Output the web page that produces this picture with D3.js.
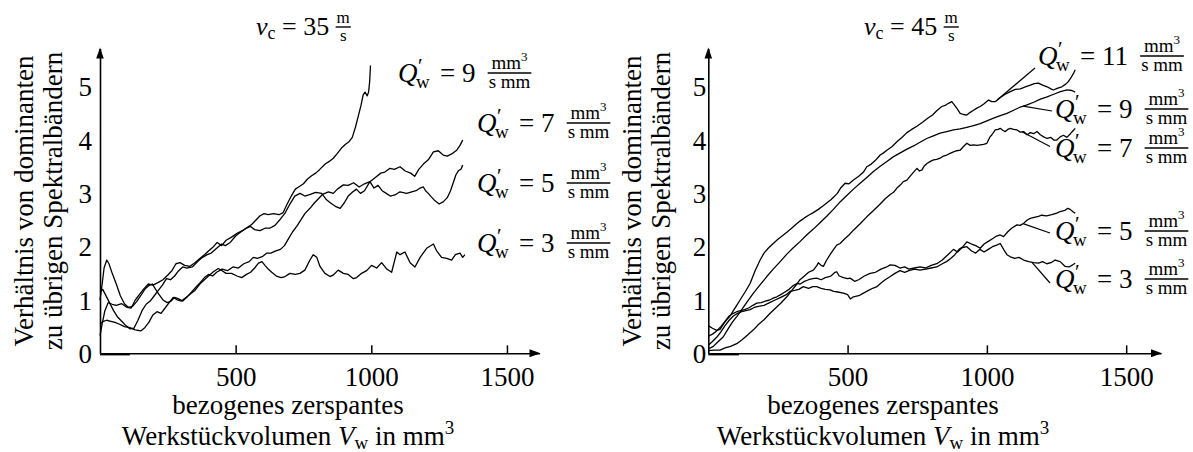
<!DOCTYPE html>
<html><head><meta charset="utf-8">
<script src="https://cdn.jsdelivr.net/npm/d3@7"></script>
<style>
body{margin:0;background:#fff;}
</style></head><body>
<svg id="chart" width="1193" height="452" font-family="'Liberation Serif', 'Times New Roman', 'Nimbus Roman', 'DejaVu Serif', serif"></svg>
<script>
// ---- values: [Werkstückvolumen V_w in mm^3, Verhältnis] ----
// v_c = 35 m/s
const vc35_q9 = [[0,0.33],[8,0.55],[18,0.8],[30,0.95],[45,0.92],[60,0.9],[80,0.93],[100,0.86],[115,0.85],[130,1.0],[145,1.1],[160,1.2],[178,1.3],[195,1.28],[215,1.33],[232,1.38],[250,1.47],[265,1.55],[280,1.68],[295,1.7],[312,1.65],[330,1.63],[350,1.7],[368,1.78],[385,1.85],[400,1.92],[418,2.0],[432,2.08],[448,2.02],[465,2.12],[485,2.18],[505,2.25],[525,2.3],[545,2.37],[560,2.42],[575,2.5],[590,2.58],[605,2.62],[620,2.6],[640,2.62],[660,2.6],[675,2.64],[690,2.8],[705,2.95],[720,3.08],[735,3.13],[750,3.18],[765,3.27],[780,3.33],[795,3.38],[810,3.45],[830,3.55],[845,3.6],[860,3.66],[875,3.75],[890,3.85],[905,3.92],[918,3.97],[930,4.05],[942,4.25],[952,4.45],[962,4.65],[970,4.85],[977,4.9],[985,4.83],[990,4.9],[994,5.1],[997,5.4]];
const vc35_q7 = [[0,1.0],[8,1.3],[15,1.6],[25,1.75],[33,1.68],[45,1.5],[60,1.3],[75,1.08],[90,0.93],[105,0.86],[120,0.88],[135,0.97],[150,1.08],[165,1.2],[180,1.27],[193,1.3],[205,1.2],[218,1.1],[232,1.0],[248,0.95],[262,0.98],[275,1.05],[290,1.02],[305,0.98],[320,1.05],[338,1.15],[355,1.25],[370,1.33],[385,1.42],[400,1.48],[415,1.45],[430,1.52],[450,1.58],[470,1.55],[490,1.62],[510,1.6],[530,1.68],[550,1.72],[565,1.8],[580,1.78],[600,1.82],[615,1.88],[630,1.88],[648,1.92],[665,1.95],[680,2.02],[695,2.15],[710,2.28],[725,2.38],[740,2.5],[755,2.62],[774,2.72],[790,2.82],[805,2.9],[820,2.98],[842,3.03],[860,3.0],[875,3.08],[897,3.16],[915,3.15],[935,3.2],[955,3.12],[975,3.18],[995,3.22],[1015,3.3],[1035,3.38],[1050,3.4],[1069,3.47],[1085,3.45],[1106,3.5],[1125,3.42],[1145,3.38],[1160,3.32],[1175,3.45],[1192,3.55],[1210,3.63],[1229,3.78],[1247,3.8],[1265,3.72],[1280,3.7],[1296,3.74],[1315,3.81],[1327,3.9],[1337,4.0]];
const vc35_q5 = [[0,1.15],[10,1.2],[20,1.1],[35,0.95],[50,0.8],[65,0.68],[80,0.6],[95,0.52],[110,0.46],[125,0.47],[140,0.62],[155,0.8],[170,0.92],[185,0.98],[200,1.08],[215,1.18],[230,1.28],[245,1.4],[260,1.38],[275,1.45],[290,1.55],[305,1.62],[320,1.6],[340,1.62],[360,1.72],[378,1.8],[395,1.85],[410,1.88],[430,1.97],[448,2.05],[462,2.02],[480,2.08],[500,2.2],[520,2.28],[540,2.35],[555,2.38],[570,2.32],[590,2.3],[610,2.35],[627,2.35],[645,2.4],[662,2.5],[682,2.63],[700,2.8],[718,2.95],[737,3.0],[755,2.95],[775,2.98],[795,3.02],[817,3.0],[835,2.88],[850,2.82],[870,2.75],[885,2.72],[900,2.82],[915,2.95],[930,3.02],[945,3.08],[960,3.0],[975,3.05],[995,3.22],[1010,3.1],[1025,3.15],[1040,3.05],[1055,3.0],[1070,2.95],[1087,2.97],[1106,3.03],[1130,3.0],[1149,3.03],[1165,3.05],[1180,3.1],[1192,3.12],[1200,3.05],[1210,3.0],[1222,2.93],[1235,2.86],[1250,2.8],[1265,2.84],[1280,2.92],[1292,3.05],[1302,3.2],[1312,3.35],[1322,3.43],[1330,3.45],[1337,3.53]];
const vc35_q3 = [[0,0.55],[12,0.6],[25,0.62],[40,0.6],[55,0.58],[70,0.55],[90,0.5],[110,0.48],[130,0.44],[150,0.42],[165,0.48],[180,0.58],[195,0.72],[210,0.78],[225,0.75],[240,0.85],[255,0.95],[270,1.05],[285,1.0],[300,0.98],[318,1.05],[335,1.12],[350,1.18],[368,1.3],[385,1.38],[400,1.45],[418,1.53],[436,1.59],[450,1.55],[465,1.5],[485,1.5],[505,1.45],[522,1.42],[540,1.48],[555,1.52],[570,1.6],[584,1.69],[597,1.72],[608,1.65],[620,1.58],[633,1.52],[650,1.45],[668,1.42],[682,1.44],[700,1.5],[720,1.48],[737,1.5],[755,1.56],[774,1.75],[786,1.85],[799,1.8],[811,1.63],[829,1.5],[848,1.44],[860,1.47],[878,1.56],[897,1.5],[915,1.48],[934,1.4],[946,1.42],[964,1.5],[983,1.55],[1001,1.65],[1020,1.6],[1038,1.7],[1057,1.58],[1075,1.52],[1094,1.9],[1106,1.85],[1124,1.9],[1143,1.7],[1161,1.62],[1180,1.8],[1204,1.97],[1229,2.05],[1241,1.92],[1259,1.8],[1278,1.78],[1296,1.75],[1310,1.85],[1327,1.88],[1337,1.8],[1345,1.85]];

// v_c = 45 m/s
const vc45_q11 = [[0,0.52],[15,0.47],[30,0.43],[42,0.45],[55,0.55],[66,0.63],[78,0.7],[90,0.8],[102,0.9],[114,1.0],[132,1.15],[150,1.31],[168,1.55],[186,1.75],[200,1.88],[215,1.97],[233,2.06],[250,2.14],[265,2.2],[282,2.27],[300,2.35],[315,2.42],[329,2.48],[345,2.54],[360,2.59],[377,2.64],[395,2.7],[410,2.76],[425,2.82],[440,2.88],[452,2.94],[463,3.0],[475,3.1],[491,3.19],[505,3.18],[521,3.25],[540,3.32],[557,3.4],[569,3.5],[585,3.55],[600,3.62],[617,3.72],[629,3.76],[641,3.81],[660,3.88],[677,3.97],[695,4.05],[713,4.14],[730,4.2],[749,4.26],[770,4.34],[790,4.42],[805,4.47],[820,4.55],[838,4.63],[850,4.65],[862,4.69],[874,4.72],[883,4.66],[892,4.6],[904,4.5],[916,4.48],[928,4.47],[940,4.52],[952,4.56],[964,4.6],[976,4.63],[990,4.68],[1006,4.75],[1018,4.72],[1030,4.72],[1048,4.8],[1066,4.86],[1084,4.91],[1102,4.95],[1120,4.96],[1138,5.0],[1156,5.03],[1170,5.06],[1185,5.07],[1200,5.03],[1216,5.0],[1230,4.96],[1239,4.94],[1252,4.97],[1269,5.0],[1283,5.05],[1293,5.1],[1303,5.18],[1311,5.25],[1317,5.32]];
const vc45_q9 = [[0,0.08],[18,0.13],[36,0.22],[54,0.31],[70,0.45],[86,0.58],[102,0.69],[120,0.82],[140,0.97],[162,1.13],[185,1.28],[210,1.44],[233,1.58],[258,1.72],[282,1.86],[305,1.98],[330,2.1],[353,2.22],[377,2.33],[401,2.45],[425,2.57],[449,2.7],[473,2.84],[497,2.96],[521,3.08],[545,3.19],[569,3.3],[593,3.41],[617,3.51],[641,3.6],[665,3.69],[689,3.76],[713,3.83],[737,3.89],[760,3.96],[784,4.03],[808,4.08],[832,4.13],[856,4.16],[880,4.19],[904,4.21],[928,4.24],[952,4.27],[976,4.31],[1000,4.36],[1024,4.41],[1048,4.46],[1072,4.5],[1096,4.56],[1120,4.62],[1144,4.66],[1168,4.71],[1192,4.77],[1216,4.81],[1240,4.86],[1264,4.91],[1288,4.94],[1305,4.93],[1317,4.9]];
const vc45_q7 = [[0,0.05],[20,0.06],[42,0.06],[60,0.1],[80,0.13],[102,0.18],[120,0.25],[140,0.34],[162,0.44],[180,0.54],[200,0.63],[222,0.75],[240,0.84],[260,0.94],[282,1.06],[300,1.18],[318,1.3],[329,1.38],[345,1.45],[360,1.52],[377,1.56],[389,1.64],[395,1.7],[405,1.65],[413,1.63],[425,1.75],[437,1.85],[450,1.95],[461,2.03],[473,2.06],[490,2.15],[505,2.22],[521,2.31],[545,2.43],[569,2.56],[593,2.68],[617,2.8],[635,2.9],[653,2.98],[665,3.02],[677,3.1],[690,3.16],[700,3.22],[713,3.25],[724,3.32],[737,3.4],[749,3.47],[758,3.42],[767,3.44],[776,3.52],[785,3.56],[797,3.6],[809,3.63],[820,3.64],[832,3.66],[844,3.7],[856,3.72],[868,3.75],[880,3.78],[892,3.8],[904,3.81],[916,3.88],[928,3.94],[940,3.9],[952,3.91],[964,3.9],[976,3.91],[988,3.92],[1000,3.94],[1010,4.05],[1018,4.1],[1030,4.19],[1040,4.2],[1048,4.22],[1058,4.18],[1066,4.16],[1075,4.2],[1084,4.22],[1096,4.2],[1108,4.19],[1120,4.15],[1132,4.16],[1144,4.1],[1156,4.14],[1168,4.12],[1180,4.16],[1192,4.1],[1204,4.06],[1216,4.03],[1230,4.05],[1240,4.0],[1251,4.0],[1263,4.06],[1275,4.09],[1287,4.05],[1300,4.12],[1310,4.18],[1317,4.22]];
const vc45_q5 = [[0,0.15],[15,0.22],[30,0.3],[45,0.4],[60,0.52],[75,0.62],[90,0.7],[105,0.75],[120,0.78],[135,0.8],[150,0.82],[165,0.86],[180,0.88],[200,0.9],[220,0.95],[240,1.0],[260,1.05],[280,1.1],[293,1.16],[310,1.18],[325,1.2],[341,1.25],[360,1.22],[375,1.25],[389,1.25],[405,1.22],[420,1.2],[437,1.19],[450,1.16],[465,1.15],[485,1.13],[500,1.1],[510,1.02],[521,1.06],[540,1.08],[557,1.13],[575,1.18],[590,1.22],[605,1.25],[620,1.32],[635,1.38],[653,1.44],[670,1.5],[688,1.55],[705,1.52],[720,1.55],[740,1.58],[760,1.56],[780,1.58],[800,1.6],[820,1.62],[840,1.68],[855,1.72],[870,1.78],[885,1.85],[900,1.95],[914,2.0],[928,2.09],[945,2.05],[960,2.02],[976,1.97],[990,2.05],[1005,2.1],[1020,2.15],[1035,2.2],[1048,2.22],[1060,2.19],[1075,2.28],[1090,2.35],[1108,2.41],[1120,2.4],[1132,2.44],[1145,2.5],[1156,2.53],[1170,2.55],[1185,2.57],[1197,2.59],[1215,2.58],[1233,2.6],[1251,2.63],[1263,2.66],[1280,2.68],[1290,2.72],[1299,2.7],[1310,2.65],[1317,2.63]];
const vc45_q3 = [[0,0.32],[15,0.36],[30,0.42],[45,0.5],[60,0.6],[75,0.7],[90,0.75],[102,0.78],[115,0.8],[130,0.82],[145,0.85],[160,0.9],[174,0.94],[190,0.95],[205,0.98],[220,1.0],[235,1.04],[246,1.06],[260,1.1],[275,1.15],[290,1.2],[305,1.27],[318,1.31],[330,1.3],[345,1.35],[360,1.38],[375,1.4],[389,1.41],[405,1.38],[420,1.42],[440,1.45],[455,1.52],[461,1.53],[470,1.45],[485,1.42],[500,1.4],[509,1.41],[525,1.35],[540,1.38],[560,1.45],[581,1.5],[600,1.52],[620,1.58],[640,1.62],[653,1.66],[670,1.65],[688,1.6],[705,1.62],[720,1.58],[740,1.6],[760,1.62],[780,1.6],[800,1.65],[820,1.68],[840,1.75],[860,1.85],[880,1.95],[895,1.9],[910,1.98],[928,2.0],[945,1.92],[960,1.88],[975,1.95],[990,1.9],[1005,1.95],[1020,2.0],[1035,2.03],[1048,2.06],[1060,1.95],[1072,1.85],[1084,1.81],[1100,1.78],[1115,1.8],[1132,1.75],[1150,1.72],[1168,1.7],[1185,1.69],[1200,1.72],[1215,1.68],[1230,1.7],[1245,1.75],[1263,1.72],[1281,1.63],[1295,1.62],[1308,1.66],[1317,1.69]];

// short run lying on the zero line at the start of each test
const zeroRun = [[0,0],[110,0]];

const xTicks = [500, 1000, 1500];
const yTicks = [0, 1, 2, 3, 4, 5];
const flowRates35 = ["9", "7", "5", "3"];
const flowRates45 = ["11", "9", "7", "5", "3"];
// volume at which each right-hand label's leader meets its curve
const leaderVolumes45 = [1037, 1130, 1126, 1130, 1162];

const SERIF = "'Liberation Serif', 'Times New Roman', 'Nimbus Roman', 'DejaVu Serif', serif";
const svg = d3.select("#chart");
const FS = 27;

function txt(g) {
  return g.append("text").attr("font-family", SERIF).attr("fill", "#000");
}

function fraction(g, cx, barY, num, den, size) {
  const n = txt(g).attr("x", cx).attr("y", barY - 4).attr("text-anchor", "middle").attr("font-size", size);
  num(n);
  const d = txt(g).attr("x", cx).attr("y", barY + size * 0.8).attr("text-anchor", "middle").attr("font-size", size).text(den);
  const w = Math.max(n.node().getComputedTextLength(), d.node().getComputedTextLength()) + 2;
  g.append("line").attr("x1", cx - w / 2).attr("x2", cx + w / 2).attr("y1", barY).attr("y2", barY)
    .attr("stroke", "#000").attr("stroke-width", 1.4);
}

function mm3(t) {
  t.append("tspan").text("mm");
  t.append("tspan").attr("dy", -8).attr("font-size", 13).text("3");
}

// Q'_w = n  mm^3/(s mm)
function qLabel(g, x, y, rate) {
  const t = txt(g).attr("font-size", FS);
  t.append("tspan").attr("x", x).attr("y", y).attr("font-style", "italic").text("Q");
  t.append("tspan").attr("x", x + 20).attr("y", y - 9).attr("font-size", 21).text("′");
  t.append("tspan").attr("x", x + 18).attr("y", y + 6).attr("font-size", 19).text("w");
  const eq = t.append("tspan").attr("x", x + 42).attr("y", y).text("= " + rate);
  const end = x + 42 + eq.node().getComputedTextLength();
  fraction(g, end + 34, y - 9, mm3, "s mm", 19);
}

function drawPanel(p) {
  const g = svg.append("g");
  const x = d3.scaleLinear().domain([0, p.xEnd]).range([p.x0, p.x1]);
  const y = d3.scaleLinear().domain([0, 5.72]).range([353.3, 48.4]);
  const line = d3.line().x(d => x(d[0])).y(d => y(d[1]));

  // curves
  g.selectAll("path.curve").data(p.series).join("path").attr("class", "curve")
    .attr("d", line).attr("fill", "none").attr("stroke", "#000")
    .attr("stroke-width", 1.3).attr("stroke-linejoin", "round");
  g.append("path").attr("d", line(zeroRun)).attr("transform", "translate(0,1.3)")
    .attr("fill", "none").attr("stroke", "#000").attr("stroke-width", 1.6);

  // x axis: ticks point up into the plot
  const xa = g.append("g").attr("transform", `translate(0,${y(0)})`)
    .call(d3.axisBottom(x).tickValues(xTicks).tickFormat(d3.format("d")).tickSize(-8).tickSizeOuter(0).tickPadding(14))
    .attr("font-family", SERIF).attr("font-size", FS);
  xa.select(".domain").attr("stroke-width", 1.6);
  xa.selectAll(".tick line").attr("stroke-width", 1.5);
  xa.selectAll("text").attr("fill", "#000");

  // y axis: labels only
  const ya = g.append("g").attr("transform", `translate(${x(0)},0)`)
    .call(d3.axisLeft(y).tickValues(yTicks).tickSize(0).tickPadding(p.yPad).tickFormat(d3.format("d")).tickSizeOuter(0))
    .attr("font-family", SERIF).attr("font-size", FS);
  ya.select(".domain").attr("stroke-width", 1.6);
  ya.selectAll("text").attr("fill", "#000").attr("dy", "0.34em");

  // arrow heads
  const ox = x(0), oy = y(0), ty = y(5.72), tx = x(p.xEnd);
  g.append("path").attr("d", `M${ox},${ty - 1}L${ox - 3.8},${ty + 10}L${ox + 3.8},${ty + 10}Z`);
  g.append("path").attr("d", `M${tx + 1},${oy}L${tx - 10},${oy - 4}L${tx - 10},${oy + 4}Z`);

  // y axis title (two lines)
  [["Verhältnis von dominanten", ox - 67], ["zu übrigen Spektralbändern", ox - 38]].forEach(([s, bx]) => {
    txt(g).attr("transform", `translate(${bx},201) rotate(-90)`)
      .attr("text-anchor", "middle").attr("font-size", FS).text(s);
  });

  // x axis title
  txt(g).attr("x", p.xlabX).attr("y", 414).attr("text-anchor", "middle").attr("font-size", FS).text("bezogenes zerspantes");
  const t2 = txt(g).attr("x", p.xlabX).attr("y", 445).attr("text-anchor", "middle").attr("font-size", FS);
  t2.append("tspan").text("Werkstückvolumen ");
  t2.append("tspan").attr("font-style", "italic").text("V");
  t2.append("tspan").attr("dy", 4).attr("font-size", 19).text("w");
  t2.append("tspan").attr("dy", -4).text(" in mm");
  t2.append("tspan").attr("dy", -11).attr("font-size", 19).text("3");

  // panel title: v_c = .. m/s
  const tt = txt(g).attr("x", p.titleX).attr("y", 35).attr("font-size", 26);
  tt.append("tspan").attr("font-style", "italic").text("v");
  tt.append("tspan").attr("dy", 4).attr("font-size", 18).text("c");
  tt.append("tspan").attr("dy", -4).text(" = " + p.speed);
  const tEnd = p.titleX + tt.node().getComputedTextLength();
  fraction(g, tEnd + 14, 27, t => t.text("m"), "s", 17);

  return { g, x, y };
}

function valueAt(series, v) {
  const i = d3.bisector(d => d[0]).left(series, v);
  const a = series[Math.max(0, i - 1)], b = series[Math.min(series.length - 1, i)];
  if (a[0] === b[0]) return a[1];
  return a[1] + (b[1] - a[1]) * (v - a[0]) / (b[0] - a[0]);
}

// left panel, v_c = 35 m/s
const left = drawPanel({
  series: [vc35_q9, vc35_q7, vc35_q5, vc35_q3],
  x0: 100, x1: 539.5, xEnd: 1620, yPad: 8,
  xlabX: 288, titleX: 256, speed: "35"
});
const leftLabelPos = [[398, 82], [477, 132], [477, 192], [477, 252]];
flowRates35.forEach((r, i) => qLabel(left.g, leftLabelPos[i][0], leftLabelPos[i][1], r));

// right panel, v_c = 45 m/s
const right = drawPanel({
  series: [vc45_q11, vc45_q9, vc45_q7, vc45_q5, vc45_q3],
  x0: 708.3, x1: 1161, xEnd: 1625, yPad: 2,
  xlabX: 883, titleX: 864, speed: "45"
});
const rightLabelPos = [[1038, 65], [1055, 118], [1055, 157], [1055, 240], [1055, 288]];
const leaderEnds = [[1035, 68], [1052, 111], [1050, 146.5], [1050, 233], [1050, 283]];
const seriesR = [vc45_q11, vc45_q9, vc45_q7, vc45_q5, vc45_q3];
flowRates45.forEach((r, i) => {
  const v = leaderVolumes45[i];
  right.g.append("line")
    .attr("x1", right.x(v)).attr("y1", right.y(valueAt(seriesR[i], v)))
    .attr("x2", leaderEnds[i][0]).attr("y2", leaderEnds[i][1])
    .attr("stroke", "#000").attr("stroke-width", 1.2);
  qLabel(right.g, rightLabelPos[i][0], rightLabelPos[i][1], r);
});
</script>
</body></html>
